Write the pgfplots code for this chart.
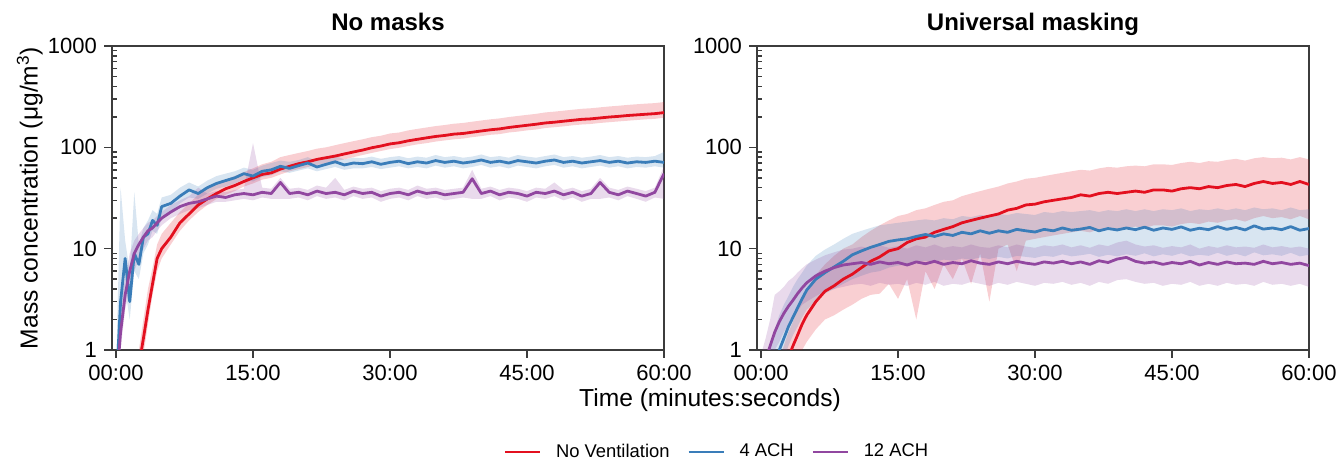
\documentclass[border=0pt]{standalone}
\usepackage{fontspec}
\setmainfont{Liberation Sans}
\usepackage{pgfplots}
\usepackage{pgfplotstable}
\pgfplotsset{compat=1.18}
\usepgfplotslibrary{fillbetween}

\definecolor{cRed}{HTML}{E3101F}
\definecolor{cBlue}{HTML}{3A7DB9}
\definecolor{cPurple}{HTML}{9147A0}
\definecolor{axgray}{HTML}{3C3C3C}

% No masks: line, lower and upper edge of the light band for each case
\pgfplotstableread{
t    r    rl   rh   b    bl   bh   p    pl   ph
0    0.2  0.2  0.2  0.4  0.3  0.6  0.4  0.3  0.6
0.5  0.2  0.2  0.2  3    1.5  40   1.5  1    3
1    0.2  0.2  0.2  8    4    12   3.5  2.5  5
1.5  0.3  0.2  0.4  3    2    6    6    4    9
2    0.4  0.3  0.6  9    6    36   9    6    12
2.5  0.7  0.5  1    7    5    11   11   8    14
3    1.3  0.9  2    13   9    16   13   10   16
3.5  2.5  1.8  4    14   11   19   15   12   18
4    4.5  3.5  6.5  19   15   24   16   13   19
4.5  8    6    11   17   14   22   18   15   21
5    10   8    14   26   20   32   20   17   23
6    13   11   18   28   23   34   23   20   27
7    18   15   23   33   28   40   26   22   30
8    22   19   28   38   32   45   28   24   33
9    27   23   34   35   31   41   29   25   40
10   31   27   39   40   35   47   31   27   35
11   35   31   43   44   39   52   33   29   37
12   39   34   48   47   41   55   32   29   36
13   42   37   52   50   44   58   34   30   38
14   46   41   57   55   48   63   35   31   39
15   50   44   62   52   46   60   34   30   110
16   54   48   68   58   51   66   36   32   40
17   56   50   72   60   53   70   35   31   39
18   61   54   80   65   58   74   45   31   50
19   65   58   84   62   56   72   35   31   39
20   69   61   88   66   59   75   36   32   40
21   72   64   92   70   62   80   34   30   38
22   76   67   97   64   58   73   37   33   42
23   79   70   100  68   61   77   35   31   40
24   82   73   105  72   64   82   36   32   50
25   86   76   110  67   60   76   34   30   38
26   90   80   115  70   62   79   37   33   41
27   94   84   120  69   62   78   35   31   39
28   99   88   126  72   64   81   36   32   40
29   103  92   130  68   61   77   33   29   37
30   108  96   137  71   63   80   35   31   39
31   111  99   140  73   65   82   36   32   40
32   116  103  147  69   62   78   34   30   38
33   120  107  152  72   64   81   37   33   42
34   124  110  157  70   62   79   35   31   39
35   128  114  162  74   66   84   36   32   40
36   131  117  166  71   63   80   34   30   38
37   135  120  171  73   65   82   35   31   39
38   137  122  174  70   62   79   36   32   40
39   141  126  179  72   64   81   49   31   60
40   145  129  184  75   67   85   35   31   39
41   149  133  189  71   63   80   37   33   41
42   152  135  193  73   65   82   34   30   38
43   157  140  199  70   62   79   36   32   40
44   161  143  204  74   66   84   35   31   39
45   165  147  209  72   64   81   33   29   37
46   169  150  214  70   62   79   36   32   40
47   174  155  221  73   65   82   35   31   39
48   177  158  225  75   67   85   37   33   45
49   181  161  230  71   63   80   34   30   38
50   185  165  235  73   65   82   36   32   40
51   189  168  240  70   62   79   33   29   37
52   191  170  243  72   64   81   35   31   39
53   195  174  248  74   66   84   45   31   50
54   199  177  253  71   63   80   36   32   40
55   202  180  257  73   65   82   34   30   38
56   206  183  262  70   62   79   37   33   41
57   209  186  266  72   64   81   35   31   39
58   212  189  270  71   63   80   33   29   37
59   215  191  273  73   65   82   36   32   40
60   220  196  280  71   63   90   55   31   65
}\tabL

% Universal masking
\pgfplotstableread{
t    r    rl   rh   b    bl   bh   p    pl   ph
0    0.3  0.3  0.3  0.3  0.3  0.5  0.5  0.4  0.9
0.5  0.3  0.3  0.4  0.4  0.3  0.8  0.8  0.5  1.3
1    0.3  0.3  0.5  0.55 0.4  1.1  1.1  0.7  2.0
1.5  0.35 0.3  0.6  0.75 0.5  1.6  1.5  1    3.5
2    0.45 0.3  0.8  1.0  0.6  2.2  1.9  1.2  3.8
2.5  0.6  0.4  1.1  1.3  0.8  2.8  2.3  1.5  4.2
3    0.85 0.5  1.5  1.7  1.1  3.4  2.7  1.8  4.8
3.5  1.1  0.6  1.9  2.1  1.4  4.2  3.1  2.1  5.2
4    1.4  0.8  2.6  2.6  1.7  5.0  3.6  2.4  5.8
4.5  1.8  1.0  3.2  3.2  2.1  5.8  4.1  2.8  6.4
5    2.2  1.2  4.0  3.9  2.5  6.8  4.6  3.0  7.0
6    3.0  1.6  5.5  5.0  3.0  8.5  5.4  3.4  7.8
7    3.8  2.0  7.0  5.8  3.6  9.8  6.0  3.8  8.6
8    4.3  2.2  8.5  6.6  4.0  11   6.5  4.0  9.2
9    5.0  2.5  10   7.5  4.5  12.5 6.9  4.2  9.8
10   5.6  2.8  11   8.7  5.0  14   7.1  4.4  10
11   6.5  3.2  13   9.5  5.4  15   7.3  4.5  10.5
12   7.5  3.5  15   10.3 5.8  16   7.0  4.3  10
13   8.3  3.6  17   11   6.0  17   7.4  4.6  10.8
14   9.5  4.5  19   11.8 6.5  17.5 7.1  4.4  10.2
15   10   3.2  21   12.2 6.8  18   7.3  4.5  10.6
16   11.5 5    22   12.5 7.0  18.5 6.9  4.3  10
17   12.5 2.0  24   13.2 7.3  19   7.4  4.6  10.8
18   13   6    25   13.8 7.6  19.5 7.1  4.4  10.3
19   14.5 4    27   13.2 7.4  19   7.5  4.7  11
20   15.5 7    29   14   7.8  20   7.0  4.3  10.2
21   16.5 5    30   13.5 7.6  19.5 7.3  4.5  10.6
22   18   8    33   14.5 8.0  21   7.1  4.4  10.3
23   19   4.5  35   14   7.8  20.5 7.6  4.7  11
24   20   9    37   15   8.2  21.5 7.2  4.5  10.4
25   21   3.0  39   14.2 7.9  21   7.0  4.3  10.2
26   22   10   41   15   8.3  22   7.4  4.6  10.8
27   24   11   44   14.5 8.0  21.5 7.1  4.4  10.3
28   25   6    46   15.5 8.5  22.5 7.5  4.7  11
29   27   12   49   15   8.3  22   7.2  4.5  10.5
30   27.5 12.5 50   14.6 8.1  21.5 7.0  4.3  10.2
31   29   13   52   15.5 8.5  23   7.4  4.6  10.8
32   30   13.5 54   15   8.3  22.5 7.2  4.5  10.5
33   31   14   56   16   8.8  23.5 7.5  4.7  11
34   32   14.5 58   15.2 8.4  23   7.1  4.4  10.3
35   34   15   60   15.6 8.6  23.5 7.4  4.6  10.8
36   33   14.5 59   16.2 8.9  24   7.0  4.3  10.2
37   35   15.5 62   15   8.3  23   7.6  4.7  11
38   36   16   64   15.8 8.7  24   7.3  4.5  10.6
39   35   15.5 63   15.3 8.4  23.5 7.9  4.9  11.5
40   36   16   65   16   8.8  24.5 8.2  5.0  12
41   37   16.5 66   15.4 8.5  23.5 7.5  4.7  11
42   36   16   65   16.3 9.0  24.5 7.2  4.5  10.5
43   38   17   68   15.2 8.4  23.5 7.4  4.6  10.8
44   38   17   68   16   8.8  24.5 7.0  4.3  10.2
45   37   16.5 67   15.5 8.5  24   7.3  4.5  10.6
46   39   17.5 70   16.4 9.0  25   7.1  4.4  10.3
47   40   18   72   15.2 8.4  23.5 7.5  4.7  11
48   39   17.5 70   15.9 8.7  24.5 6.9  4.3  10
49   41   18.5 73   15.4 8.5  24   7.3  4.5  10.6
50   40   18   72   16.5 9.1  25   7.0  4.3  10.2
51   42   19   75   15.5 8.5  24   7.4  4.6  10.8
52   43   19.5 77   16.2 8.9  25   7.1  4.4  10.3
53   41   18.5 74   15.3 8.4  24   7.2  4.5  10.5
54   44   20   78   16.8 9.2  25.5 7.0  4.3  10.2
55   46   21   80   15.6 8.6  24.5 7.5  4.7  11
56   44   20   78   16   8.8  25   7.1  4.4  10.3
57   45   20.5 79   15.4 8.5  24   7.3  4.5  10.6
58   43   19.5 76   16.5 9.1  25.5 7.0  4.3  10.2
59   46   21   80   15.2 8.4  24   7.2  4.5  10.5
60   43   19.5 76   15.8 8.7  24.5 6.8  4.2  10
}\tabR

\pgfplotsset{
  every axis/.append style={
    width=276pt, height=152pt, scale only axis,
    xmin=-0.44, xmax=60,
    xtick={0,15,30,45,60},
    xticklabels={00:00,15:00,30:00,45:00,60:00},
    xtick pos=bottom, ytick pos=left,
    tick align=outside,
    major tick length=4pt,
    minor tick length=2.5pt,
    minor y tick style={xshift=2.5pt},
    tick style={axgray, line width=0.7pt},
    axis line style={axgray, line width=0.7pt},
    ticklabel style={font=\fontsize{11}{13}\selectfont},
    title style={font=\fontsize{12}{14}\selectfont\bfseries,
      at={(0.5,1)}, anchor=base, yshift=1.5pt},
  },
}
\tikzset{
  main/.style={line width=1.4pt, line join=round},
}

\begin{document}
\begin{tikzpicture}
\begin{semilogyaxis}[at={(0pt,0pt)}, anchor=south west,
    ymin=1, ymax=1000,
    ytick={1,10,100,1000},
    yticklabels={1,10,100,1000},
    minor ytick={2,3,4,5,6,7,8,9,20,30,40,50,60,70,80,90,200,300,400,500,600,700,800,900},
    title={No masks},
    ylabel={Mass concentration (μg/m\textsuperscript{3})},
    every axis y label/.style={at={(axis description cs:-0.149,0.5)}, rotate=90, anchor=center,
      font=\fontsize{12.3}{14}\selectfont},
    legend style={at={(1.098,-0.335)}, anchor=center, legend columns=-1, draw=none,
      font=\fontsize{9.2}{11}\selectfont,
      /tikz/every odd column/.append style={column sep=5.5pt},
      /tikz/every even column/.append style={column sep=7pt}},
    legend image code/.code={\draw[#1, line width=1pt] (0pt,0pt) -- (17.5pt,0pt);},
  ]
  \addplot[draw=none, forget plot, name path=Lrh] table[x=t, y=rh] {\tabL};
  \addplot[draw=none, forget plot, name path=Lrl] table[x=t, y=rl] {\tabL};
  \addplot[fill=cRed, fill opacity=0.2, draw=none, forget plot] fill between[of=Lrh and Lrl];
  \addplot[draw=none, forget plot, name path=Lbh] table[x=t, y=bh] {\tabL};
  \addplot[draw=none, forget plot, name path=Lbl] table[x=t, y=bl] {\tabL};
  \addplot[fill=cBlue, fill opacity=0.2, draw=none, forget plot] fill between[of=Lbh and Lbl];
  \addplot[draw=none, forget plot, name path=Lph] table[x=t, y=ph] {\tabL};
  \addplot[draw=none, forget plot, name path=Lpl] table[x=t, y=pl] {\tabL};
  \addplot[fill=cPurple, fill opacity=0.2, draw=none, forget plot] fill between[of=Lph and Lpl];
  \addplot[main, cRed] table[x=t, y=r] {\tabL};
  \addlegendentry{No Ventilation}
  \addplot[main, cBlue] table[x=t, y=b] {\tabL};
  \addlegendentry{4 ACH}
  \addplot[main, cPurple] table[x=t, y=p] {\tabL};
  \addlegendentry{12 ACH}
\end{semilogyaxis}

\begin{semilogyaxis}[at={(322.5pt,0pt)}, anchor=south west,
    ymin=1, ymax=1000,
    ytick={1,10,100,1000},
    yticklabels={1,10,100,1000},
    minor ytick={2,3,4,5,6,7,8,9,20,30,40,50,60,70,80,90,200,300,400,500,600,700,800,900},
    title={Universal masking}]
  \addplot[draw=none, forget plot, name path=Rrh] table[x=t, y=rh] {\tabR};
  \addplot[draw=none, forget plot, name path=Rrl] table[x=t, y=rl] {\tabR};
  \addplot[fill=cRed, fill opacity=0.2, draw=none, forget plot] fill between[of=Rrh and Rrl];
  \addplot[draw=none, forget plot, name path=Rbh] table[x=t, y=bh] {\tabR};
  \addplot[draw=none, forget plot, name path=Rbl] table[x=t, y=bl] {\tabR};
  \addplot[fill=cBlue, fill opacity=0.2, draw=none, forget plot] fill between[of=Rbh and Rbl];
  \addplot[draw=none, forget plot, name path=Rph] table[x=t, y=ph] {\tabR};
  \addplot[draw=none, forget plot, name path=Rpl] table[x=t, y=pl] {\tabR};
  \addplot[fill=cPurple, fill opacity=0.2, draw=none, forget plot] fill between[of=Rph and Rpl];
  \addplot[main, cRed] table[x=t, y=r] {\tabR};
  \addplot[main, cBlue] table[x=t, y=b] {\tabR};
  \addplot[main, cPurple] table[x=t, y=p] {\tabR};
\end{semilogyaxis}

\node[font=\fontsize{12.3}{14}\selectfont] at (299pt,-25pt) {Time (minutes:seconds)};

\pgfresetboundingbox
\useasboundingbox (-56pt,-58pt) rectangle (613pt,175pt);
\end{tikzpicture}
\end{document}
